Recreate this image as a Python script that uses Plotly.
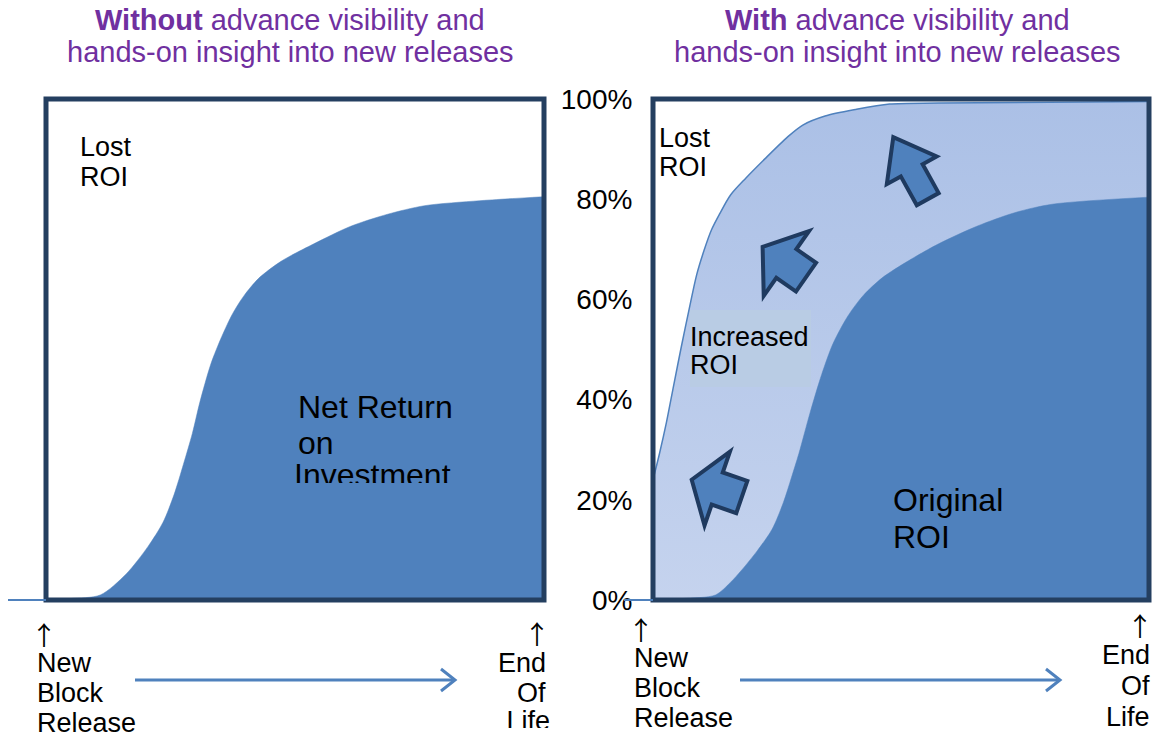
import math
import plotly.graph_objects as go

W, H = 1153, 736

# ---------------- data (share of lifecycle 0..1, ROI %) ----------------
life_left = [0, 0.05, 0.109, 0.161, 0.205, 0.235, 0.257, 0.276, 0.294, 0.309,
             0.331, 0.353, 0.375, 0.398, 0.427, 0.472, 0.538, 0.612, 0.686,
             0.760, 0.871, 1.0]
roi_left = [0, 0.3, 1.0, 5.2, 10.7, 15.5, 21, 27.1, 33.3, 39.5,
            47.1, 52.6, 57.2, 60.8, 64.2, 67.6, 71.1, 74.6, 77,
            78.7, 79.7, 80.5]

life_orig = [0, 0.06, 0.126, 0.156, 0.179, 0.21, 0.24, 0.263, 0.279, 0.294,
             0.317, 0.34, 0.363, 0.393, 0.424, 0.462, 0.515, 0.576, 0.653,
             0.729, 0.805, 1.0]
roi_orig = [0, 0.3, 1.0, 3.5, 6.0, 9.8, 14.1, 19.5, 24.4, 29.2,
            37.5, 45, 51.2, 56.7, 60.8, 64.3, 67.7, 71.1, 74.6,
            77.3, 79, 80.4]

life_inc = [0, 0.013, 0.027, 0.042, 0.057, 0.073, 0.088, 0.103, 0.118, 0.134,
            0.156, 0.187, 0.225, 0.271, 0.302, 0.347, 0.408, 0.477, 0.576,
            1.0]
roi_inc = [24.0, 29.2, 35.4, 43, 50.5, 58.1, 64.9, 69.8, 73.9, 77,
           80.8, 84.2, 88, 92.4, 94.8, 96.6, 97.9, 99, 99.2,
           99.5]

y_ticks = [0, 20, 40, 60, 80, 100]
y_tick_labels = ['0%', '20%', '40%', '60%', '80%', '100%']

# block arrows in the right panel (tip position in data units, angle deg)
arrow_tip_x = [0.078, 0.221, 0.4845]
arrow_tip_y = [24.0, 70.5, 92.4]
arrow_angle = [161, 145, 119]
arrow_len = [53, 53, 71]
arrow_head_len = [27, 29, 38]
arrow_head_w = [78, 79, 57]
arrow_shaft_w = [34, 35, 25]

# ---------------- styling ----------------
DARK = '#4f81bd'
NAVY = '#243f60'
ARROW_EDGE = '#1f3a5f'
PURPLE = '#7030a0'
FONT = 'Liberation Sans, Arial, sans-serif'
ARROW_FONT = 'Noto Sans CJK JP, DejaVu Sans, sans-serif'

L_X0, L_X1 = 46, 544
R_X0, R_X1 = 653, 1149
Y_TOP, Y_BOT = 99, 600


def fx(p):
    return p / W


def fy(p):
    return 1 - p / H


fig = go.Figure()

# left panel
fig.add_trace(go.Scatter(
    x=life_left, y=roi_left, mode='lines',
    line=dict(color=DARK, width=0.5, shape='spline', smoothing=0.8),
    fill='tozeroy', fillcolor=DARK, xaxis='x', yaxis='y', hoverinfo='skip'))

# right panel: increased ROI (light band) then original ROI on top
fig.add_trace(go.Scatter(
    x=life_inc, y=roi_inc, mode='lines',
    line=dict(color=DARK, width=1.5, shape='spline', smoothing=0.8),
    fill='tozeroy',
    fillgradient=dict(type='vertical',
                      colorscale=[[0, '#c5d3ee'], [1, '#abc0e6']]),
    xaxis='x2', yaxis='y2', hoverinfo='skip'))
fig.add_trace(go.Scatter(
    x=life_orig, y=roi_orig, mode='lines',
    line=dict(color=DARK, width=0.5, shape='spline', smoothing=0.8),
    fill='tozeroy', fillcolor=DARK, xaxis='x2', yaxis='y2', hoverinfo='skip'))

# clipped text pieces drawn as text traces on a pixel overlay axis
fig.add_trace(go.Scatter(
    x=[294, 550], y=[478, 723], mode='text',
    text=['Investment', 'Life'], textposition=['middle right', 'middle left'],
    textfont=dict(size=[32, 27], color='black', family=FONT),
    xaxis='x3', yaxis='y3', hoverinfo='skip', cliponaxis=False))

shapes = []
# frames
for x0, x1 in [(L_X0, L_X1), (R_X0, R_X1)]:
    shapes.append(dict(type='rect', xref='paper', yref='paper',
                       x0=fx(x0), x1=fx(x1), y0=fy(Y_BOT), y1=fy(Y_TOP),
                       line=dict(color=NAVY, width=5), layer='above'))
# baseline stubs left of the frames
for a, b in [(8, L_X0), (624, R_X0)]:
    shapes.append(dict(type='line', xref='paper', yref='paper',
                       x0=fx(a), x1=fx(b), y0=fy(Y_BOT), y1=fy(Y_BOT),
                       line=dict(color=DARK, width=2), layer='above'))
# background box behind "Increased ROI"
shapes.append(dict(type='rect', xref='paper', yref='paper',
                   x0=fx(690), x1=fx(811), y0=fy(387), y1=fy(310),
                   fillcolor='#b9cce4', line=dict(width=0), layer='above'))
# covers that clip text boxes
shapes.append(dict(type='rect', xref='paper', yref='paper',
                   x0=fx(288), x1=fx(472), y0=fy(500), y1=fy(483),
                   fillcolor=DARK, line=dict(width=0), layer='above'))
shapes.append(dict(type='rect', xref='paper', yref='paper',
                   x0=fx(486), x1=fx(553), y0=fy(736), y1=fy(728),
                   fillcolor='white', line=dict(width=0), layer='above'))


def arrow_path(theta, L, hl, hw, sw):
    t = math.radians(theta)
    dx, dy = math.cos(t), math.sin(t)
    nx, ny = -dy, dx

    def p(a, b):
        return (a * dx + b * nx, a * dy + b * ny)
    pts = [p(0, 0), p(-hl, hw / 2), p(-hl, sw / 2), p(-L, sw / 2),
           p(-L, -sw / 2), p(-hl, -sw / 2), p(-hl, -hw / 2)]
    return 'M ' + ' L '.join(f'{x:.2f},{y:.2f}' for x, y in pts) + ' Z'


for i in range(len(arrow_tip_x)):
    shapes.append(dict(type='path', xref='x2', yref='y2',
                       xsizemode='pixel', ysizemode='pixel',
                       xanchor=arrow_tip_x[i], yanchor=arrow_tip_y[i],
                       path=arrow_path(arrow_angle[i], arrow_len[i],
                                       arrow_head_len[i], arrow_head_w[i],
                                       arrow_shaft_w[i]),
                       fillcolor=DARK, line=dict(color=ARROW_EDGE, width=4),
                       layer='above'))

# timeline arrows below the panels
for a, b in [(135, 455), (740, 1060)]:
    yy = 680
    shapes.append(dict(type='line', xref='paper', yref='paper',
                       x0=fx(a), x1=fx(b), y0=fy(yy), y1=fy(yy),
                       line=dict(color=DARK, width=3)))
    shapes.append(dict(type='path', xref='paper', yref='paper',
                       path=f'M {fx(b - 14)},{fy(yy - 11)} L {fx(b)},{fy(yy)} '
                            f'L {fx(b - 14)},{fy(yy + 11)}',
                       line=dict(color=DARK, width=3)))

annotations = []


def ann(text, x, y, size=27, xanchor='left', color='black', family=FONT):
    # compensate the annotation box padding so glyphs start at x
    if xanchor == 'left':
        x -= 2
    elif xanchor == 'right':
        x += 2
    annotations.append(dict(text=text, x=fx(x), y=fy(y), xref='paper',
                            yref='paper', xanchor=xanchor, yanchor='middle',
                            showarrow=False,
                            font=dict(size=size, color=color, family=family)))


# titles
ann('<b>Without</b> advance visibility and', 290, 20, 29, 'center', PURPLE)
ann('hands-on insight into new releases', 290, 52, 29, 'center', PURPLE)
ann('<b>With</b> advance visibility and', 897, 20, 29, 'center', PURPLE)
ann('hands-on insight into new releases', 897, 52, 29, 'center', PURPLE)

# left panel labels
ann('Lost', 80, 147)
ann('ROI', 80, 177)
ann('Net Return', 298, 407, 32)
ann('on', 298, 443, 32)

# right panel labels
ann('Lost', 659, 138)
ann('ROI', 659, 167)
ann('Increased', 690, 337)
ann('ROI', 690, 365)
ann('Original', 893, 500, 32)
ann('ROI', 893, 537, 32)

# bottom labels
ann('↑', 44, 633, 26, 'center', family=ARROW_FONT)
ann('↑', 537, 632, 26, 'center', family=ARROW_FONT)
ann('New', 37, 663)
ann('Block', 37, 693)
ann('Release', 37, 723)
ann('End', 546, 663, 27, 'right')
ann('Of', 546, 693, 27, 'right')

ann('↑', 641, 628, 26, 'center', family=ARROW_FONT)
ann('↑', 1140, 624, 26, 'center', family=ARROW_FONT)
ann('New', 634, 658)
ann('Block', 634, 688)
ann('Release', 634, 718)
ann('End', 1150, 655, 27, 'right')
ann('Of', 1150, 686, 27, 'right')
ann('Life', 1150, 717, 27, 'right')

ydom = [fy(Y_BOT), fy(Y_TOP)]
fig.update_layout(
    width=W, height=H, margin=dict(l=0, r=0, t=0, b=0, pad=0),
    paper_bgcolor='white', plot_bgcolor='rgba(0,0,0,0)',
    showlegend=False, font=dict(family=FONT, color='black'),
    xaxis=dict(domain=[fx(L_X0), fx(L_X1)], range=[0, 1], visible=False,
               anchor='y', automargin=False),
    yaxis=dict(domain=ydom, range=[0, 100], visible=False, anchor='x',
               automargin=False),
    xaxis2=dict(domain=[fx(R_X0), fx(R_X1)], range=[0, 1], visible=False,
                anchor='y2', automargin=False),
    yaxis2=dict(domain=ydom, range=[0, 100], anchor='x2', automargin=False,
                tickmode='array', tickvals=y_ticks, ticktext=y_tick_labels,
                showgrid=False, zeroline=False, showline=False,
                ticks='outside', ticklen=14, tickcolor='rgba(0,0,0,0)',
                tickfont=dict(size=28, color='black', family=FONT)),
    xaxis3=dict(domain=[0, 1], range=[0, W], visible=False, anchor='y3',
                automargin=False),
    yaxis3=dict(domain=[0, 1], range=[H, 0], visible=False, anchor='x3',
                automargin=False),
    shapes=shapes, annotations=annotations,
)

fig.write_html('out.html',
               config={'displayModeBar': False, 'staticPlot': False},
               post_script="document.body.style.margin='0';"
                           "document.body.style.overflow='hidden';")
